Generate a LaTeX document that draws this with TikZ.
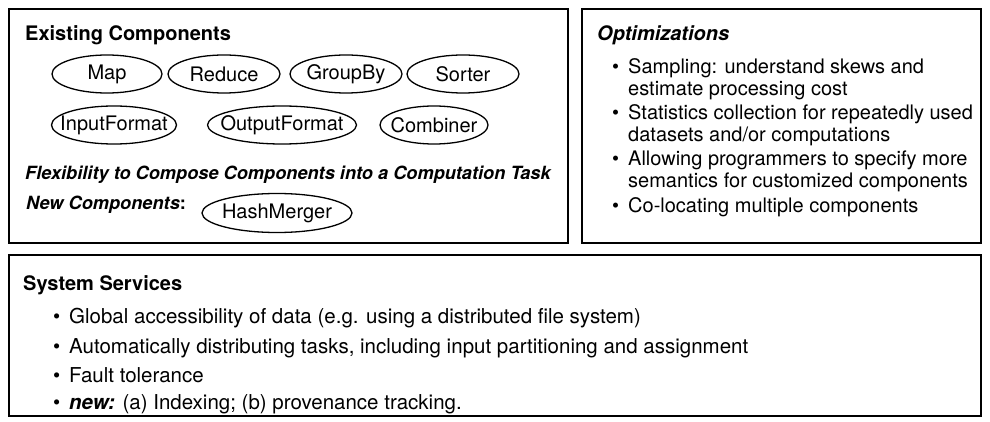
\documentclass[tikz,border=0pt]{standalone}
\usepackage{fontspec}
\setmainfont{TeX Gyre Heros}
\begin{document}
\begin{tikzpicture}[x=1pt,y=-1pt,
  panel/.style={draw, line width=1.6pt},
  txt/.style={anchor=base west, inner sep=0pt, font=\fontsize{20}{22}\selectfont},
  svc/.style={anchor=base west, inner sep=0pt, font=\fontsize{20.5}{22}\selectfont},
  head/.style={anchor=base west, inner sep=0pt, font=\bfseries\fontsize{20}{22}\selectfont},
  headit/.style={anchor=base west, inner sep=0pt, font=\bfseries\itshape\fontsize{20}{22}\selectfont},
  note/.style={anchor=base west, inner sep=0pt, font=\bfseries\itshape\fontsize{18.2}{20}\selectfont},
  comp/.style={inner sep=0pt, font=\fontsize{20}{22}\selectfont},
  ring/.style={line width=1.3pt}]
\useasboundingbox (0,0) rectangle (990,422);

% panels
\draw[panel] (9,9) rectangle (568,243);
\draw[panel] (582,9) rectangle (981,243);
\draw[panel] (9,255) rectangle (981,416);

% existing components
\node[head] (exhead) at (25,41) {Existing Components};
\node[comp] (map)  at (107,74) {Map};
\node[comp] (red)  at (224,74) {Reduce};
\node[comp] (grp)  at (346,74) {GroupBy};
\node[comp] (sort) at (463,74) {Sorter};
\node[comp] (inp)  at (114,125) {InputFormat};
\node[comp] (outp) at (282,125) {OutputFormat};
\node[comp] (comb) at (434,125) {Combiner};
\foreach \n/\rx in {map/55,red/56,grp/56,sort/56,inp/62.5,outp/74.5,comb/54}
  \draw[ring] (\n.center) ellipse [x radius=\rx, y radius=19];

\node[note] (flex) at (25,180) {Flexibility to Compose Components into a Computation Task};
\node[note] (newc) at (26,210) {New Components\textup{:}};
\node[comp] (hash) at (277,213) {HashMerger};
\draw[ring] (hash.center) ellipse [x radius=75, y radius=19.5];

% optimizations
\node[headit] (opthead) at (597,41) {Optimizations};
\foreach \y/\t [count=\i] in {
  74/{Sampling: understand skews and},
  96/{estimate processing cost},
  120/{Statistics collection for repeatedly used},
  142/{datasets and/or computations},
  166/{Allowing programmers to specify more},
  188/{semantics for customized components},
  212/{Co-locating multiple components}}
  \node[txt] (opt\i) at (628,\y) {\t};
\foreach \y [count=\i] in {74,120,166,212}
  \node[txt] (optb\i) at (612,\y) {\textbullet};

% system services
\node[head] (syshead) at (23,290) {System Services};
\node[svc] (sys1) at (69,323) {Global accessibility of data (e.g. using a distributed file system)};
\node[svc] (sys2) at (69,353) {Automatically distributing tasks, including input partitioning and assignment};
\node[svc] (sys3) at (69,382) {Fault tolerance};
\node[svc] (sys4) at (69,409) {\textbf{\textit{new:}} (a) Indexing; (b) provenance tracking.};
\foreach \y [count=\i] in {323,353,382,409}
  \node[svc] (sysb\i) at (53,\y) {\textbullet};
\end{tikzpicture}
\end{document}
